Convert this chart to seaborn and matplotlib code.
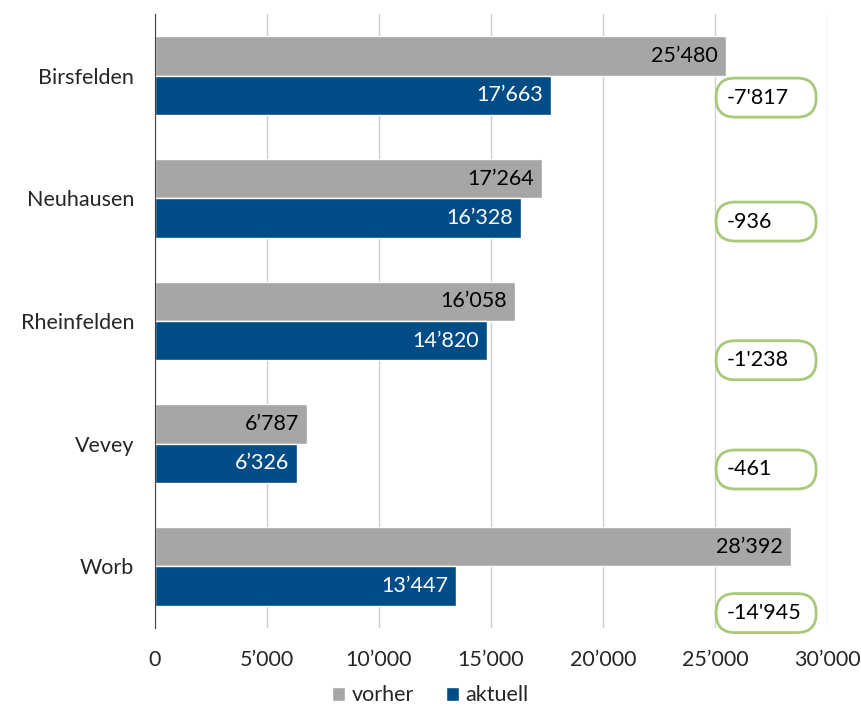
import pandas as pd
import seaborn as sns
import matplotlib.pyplot as plt
from matplotlib.patches import FancyBboxPatch
from matplotlib.ticker import FuncFormatter

sns.set_style('white')
plt.rcParams['font.family'] = ['Lato', 'DejaVu Sans']

# data
orte = ['Birsfelden', 'Neuhausen', 'Rheinfelden', 'Vevey', 'Worb']
vorher = [25480, 17264, 16058, 6787, 28392]
aktuell = [17663, 16328, 14820, 6326, 13447]
differenz = [-7817, -936, -1238, -461, -14945]
# vertical offset of the difference boxes relative to each category
diff_offset = [0.18, 0.19, 0.32, 0.21, 0.38]

df = pd.DataFrame({'Ort': orte * 2,
                   'Wert': vorher + aktuell,
                   'Serie': ['vorher'] * len(orte) + ['aktuell'] * len(orte)})

def fmt(v):
    s = f"{abs(int(v)):,}".replace(',', '\u2019')
    return ('-' if v < 0 else '') + s

FS = 15.5

fig = plt.figure(figsize=(8.61, 7.07), dpi=100)
ax = fig.add_axes([0.18, 0.112, 0.7805, 0.868])

sns.barplot(data=df, y='Ort', x='Wert', hue='Serie', orient='h',
            palette={'vorher': '#A6A6A6', 'aktuell': '#004C87'},
            width=0.64, edgecolor='white', linewidth=1, saturation=1,
            legend=True, ax=ax)

ax.set_xlim(0, 30000)
ax.set_ylim(4.5, -0.5)

# value labels inside the bar ends
for cont, col in zip(ax.containers, ['black', 'white']):
    for p in cont:
        ax.text(p.get_width() - 350, p.get_y() + p.get_height() / 2,
                fmt(p.get_width()), ha='right', va='center',
                fontsize=FS, color=col)

# difference boxes, fixed width with rounded corners
px_x = 30000 / (0.7805 * 861)
px_y = 5 / (0.868 * 707)
box_w, box_h = 100 * px_x, 39 * px_y
for i, (d, off) in enumerate(zip(differenz, diff_offset)):
    yc = i + off
    ax.add_patch(FancyBboxPatch((25050, yc - box_h / 2), box_w, box_h,
                                boxstyle='round,pad=0,rounding_size=%f' % (19 * px_x),
                                mutation_aspect=px_y / px_x,
                                fc='white', ec='#A9C97A', lw=2, zorder=3,
                                clip_on=False))
    ax.text(25500, yc, fmt(d).replace('\u2019', "'"), ha='left', va='center',
            fontsize=FS, color='black', zorder=4)

ax.set_xticks(range(0, 30001, 5000))
ax.xaxis.set_major_formatter(FuncFormatter(lambda v, p: fmt(v)))
ax.grid(axis='x', color='#D0D0D0', lw=1)
ax.set_axisbelow(True)
for s in ['top', 'right', 'bottom']:
    ax.spines[s].set_visible(False)
ax.spines['left'].set_color('#404040')
ax.tick_params(axis='both', length=0, labelsize=FS)
ax.tick_params(axis='y', pad=15)
ax.tick_params(axis='x', pad=16)
ax.set_xlabel('')
ax.set_ylabel('')

handles, labels = ax.get_legend_handles_labels()
ax.get_legend().remove()
fig.legend(handles, labels, loc='lower center', bbox_to_anchor=(0.5, -0.025),
           ncol=2, frameon=False, fontsize=FS, handlelength=0.6,
           handleheight=0.6, handletextpad=0.3, columnspacing=1.5)

plt.savefig('out.png', dpi=100)
